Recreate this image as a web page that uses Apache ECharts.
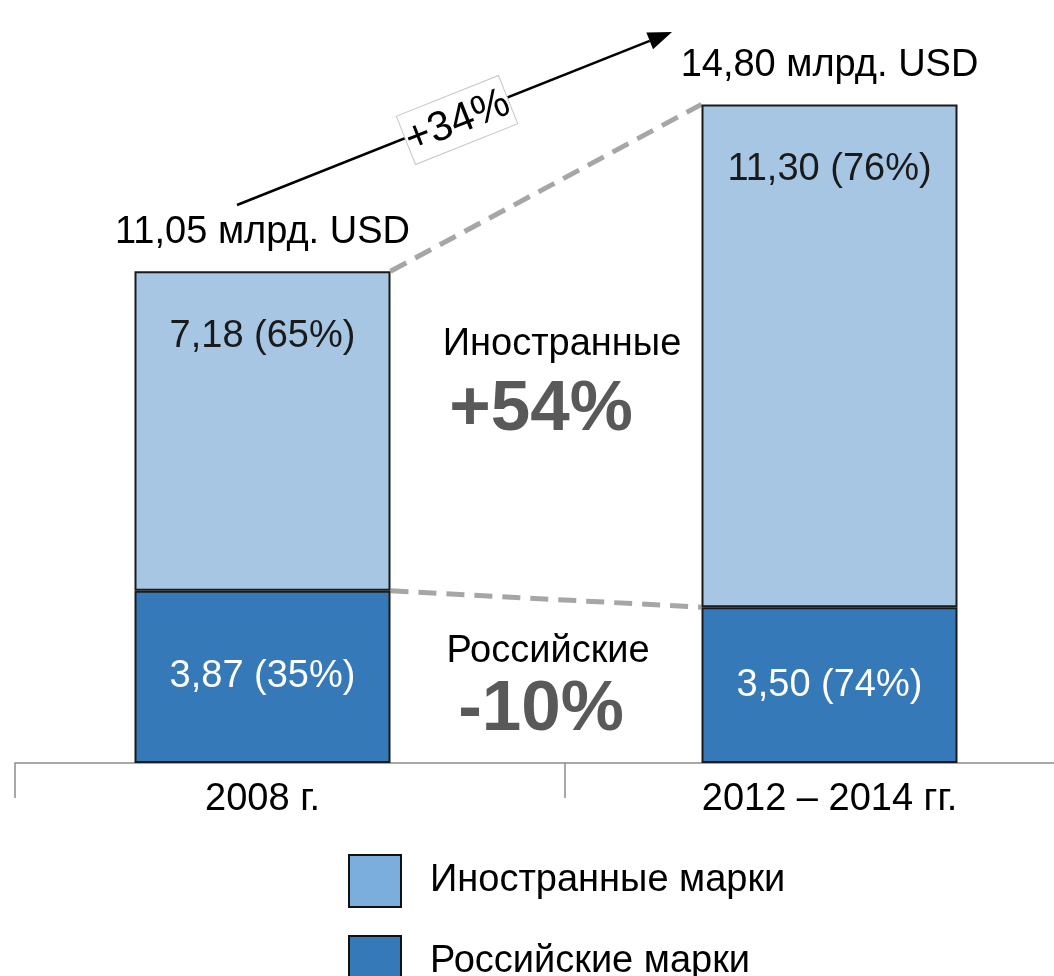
<!DOCTYPE html>
<html>
<head>
<meta charset="utf-8">
<script src="https://cdn.jsdelivr.net/npm/echarts@6/dist/echarts.min.js"></script>
<style>
  html, body { margin: 0; padding: 0; background: #fff; }
  #main { width: 1054px; height: 976px; }
</style>
</head>
<body>
<div id="main"></div>
<script>
  // данные с картинки
  var categories = ['2008 г.', '2012 – 2014 гг.'];
  var foreign = [7.18, 11.30];
  var domestic = [3.87, 3.50];
  var foreignShare = [65, 76];
  var domesticShare = [35, 74];
  var seriesNames = ['Иностранные марки', 'Российские марки'];

  var totals = categories.map(function (c, i) { return +(foreign[i] + domestic[i]).toFixed(2); });
  var FONT = "'Liberation Sans', Arial, sans-serif";
  var FS = 38;

  function fmt(v) { return v.toFixed(2).replace('.', ','); }

  var myChart = echarts.init(document.getElementById('main'));
  var option = {
    animation: false,
    textStyle: { fontFamily: FONT },
    grid: [
      { left: -21, width: 1134, top: 51, bottom: 213, outerBoundsMode: 'none' },   // бары
      { left: 15, width: 1100, top: 700, bottom: 213, outerBoundsMode: 'none' }    // линия оси с засечками
    ],
    xAxis: [
      {
        gridIndex: 0, type: 'category', data: categories,
        axisLine: { show: false }, axisTick: { show: false },
        axisLabel: { fontSize: FS, color: '#000', margin: 18, fontFamily: FONT }
      },
      {
        gridIndex: 1, type: 'category', data: ['', ''],
        axisLine: { lineStyle: { color: '#8c8c8c', width: 1.5 } },
        axisTick: { show: true, length: 35, lineStyle: { color: '#8c8c8c', width: 1.5 } },
        axisLabel: { show: false }
      }
    ],
    yAxis: [
      { gridIndex: 0, type: 'value', min: 0, max: 16, show: false },
      { gridIndex: 1, type: 'value', show: false }
    ],
    legend: {
      orient: 'vertical', left: 343, top: 849, height: 200,
      itemWidth: 52, itemHeight: 52, itemGap: 27,
      icon: 'rect',
      textStyle: { fontSize: FS, color: '#000', fontFamily: FONT, padding: [0, 0, 0, 24] },
      data: [
        { name: seriesNames[0], itemStyle: { color: '#7BAEDC', borderColor: '#111', borderWidth: 2 } },
        { name: seriesNames[1], itemStyle: { color: '#3579B9', borderColor: '#111', borderWidth: 2 } }
      ]
    },
    series: [
      {
        name: seriesNames[1], type: 'bar', stack: 'all', barWidth: 256,
        data: domestic,
        itemStyle: { color: '#3579B9', borderColor: '#1a1a1a', borderWidth: 2 },
        label: {
          show: true, position: 'inside', color: '#fff', fontSize: FS, fontFamily: FONT,
          formatter: function (p) { return fmt(p.value) + ' (' + domesticShare[p.dataIndex] + '%)'; }
        }
      },
      {
        name: seriesNames[0], type: 'bar', stack: 'all', barWidth: 256,
        data: foreign,
        itemStyle: { color: '#A6C6E4', borderColor: '#1a1a1a', borderWidth: 2 },
        label: {
          show: true, position: 'insideTop', distance: 46, color: '#1a1a1a', fontSize: FS, fontFamily: FONT,
          formatter: function (p) { return fmt(p.value) + ' (' + foreignShare[p.dataIndex] + '%)'; }
        }
      },
      {
        name: 'total', type: 'scatter', data: totals, symbolSize: 0,
        itemStyle: { color: '#000', opacity: 1 }, silent: true,
        label: {
          show: true, position: 'top', distance: 20, color: '#000', opacity: 1, fontSize: FS, fontFamily: FONT,
          formatter: function (p) { return fmt(p.value) + ' млрд. USD'; }
        }
      }
    ]
  };
  myChart.setOption(option);

  // соединительные пунктиры и стрелка
  var half = 128;
  var topA = myChart.convertToPixel({ xAxisIndex: 0, yAxisIndex: 0 }, [0, totals[0]]);
  var topB = myChart.convertToPixel({ xAxisIndex: 0, yAxisIndex: 0 }, [1, totals[1]]);
  var midA = myChart.convertToPixel({ xAxisIndex: 0, yAxisIndex: 0 }, [0, domestic[0]]);
  var midB = myChart.convertToPixel({ xAxisIndex: 0, yAxisIndex: 0 }, [1, domestic[1]]);
  var dash = { stroke: '#A6A6A6', lineWidth: 5, lineDash: [18, 10] };

  var a0 = [237, 205], a1 = [672, 32];
  var ang = Math.atan2(a1[1] - a0[1], a1[0] - a0[0]);
  var hl = 24, hw = 9;
  var bx = a1[0] - hl * Math.cos(ang), by = a1[1] - hl * Math.sin(ang);
  var head = [a1,
    [bx + hw * Math.sin(ang), by - hw * Math.cos(ang)],
    [bx - hw * Math.sin(ang), by + hw * Math.cos(ang)]];

  myChart.setOption({
    graphic: [
      { type: 'line', shape: { x1: topA[0] + half, y1: topA[1], x2: topB[0] - half, y2: topB[1] }, style: dash, z: 1 },
      { type: 'line', shape: { x1: midA[0] + half, y1: midA[1], x2: midB[0] - half, y2: midB[1] }, style: dash, z: 1 },
      { type: 'line', shape: { x1: a0[0], y1: a0[1], x2: bx, y2: by }, style: { stroke: '#000', lineWidth: 2.5 } },
      { type: 'polygon', shape: { points: head }, style: { fill: '#000' } },
      {
        type: 'group', x: 457, y: 120, rotation: -ang,
        children: [
          { type: 'rect', shape: { x: -55, y: -26, width: 110, height: 52 }, style: { fill: '#fff', stroke: '#c8c8c8', lineWidth: 1 } },
          { type: 'text', x: 0, y: 2, style: { text: '+34%', font: '42px ' + FONT, fill: '#000', align: 'center', verticalAlign: 'middle' } }
        ]
      },
      { type: 'text', x: 562, y: 345, style: { text: 'Иностранные', font: FS + 'px ' + FONT, fill: '#000', align: 'center', verticalAlign: 'middle' } },
      { type: 'text', x: 541, y: 410, style: { text: '+54%', font: 'bold 71px ' + FONT, fill: '#595959', align: 'center', verticalAlign: 'middle' } },
      { type: 'text', x: 548, y: 652, style: { text: 'Российские', font: FS + 'px ' + FONT, fill: '#000', align: 'center', verticalAlign: 'middle' } },
      { type: 'text', x: 541, y: 710, style: { text: '-10%', font: 'bold 71px ' + FONT, fill: '#595959', align: 'center', verticalAlign: 'middle' } }
    ]
  });
</script>
</body>
</html>
